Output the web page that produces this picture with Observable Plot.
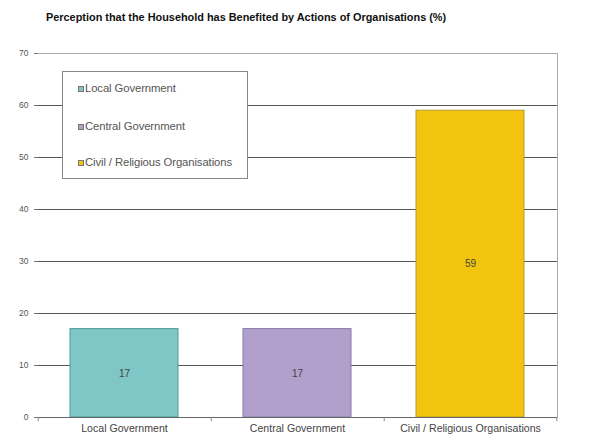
<!DOCTYPE html>
<html>
<head>
<meta charset="utf-8">
<script src="https://cdn.jsdelivr.net/npm/d3@7"></script>
<script src="https://cdn.jsdelivr.net/npm/@observablehq/plot@0.6"></script>
<style>
  html, body { margin: 0; padding: 0; background: #fff; }
  #wrap { position: relative; width: 589px; height: 447px; font-family: "Liberation Sans", Arial, sans-serif; }
  #title { position: absolute; left: 46px; top: 11px; font-size: 10.9px; font-weight: bold; color: #111; white-space: nowrap; }
  #legend { position: absolute; left: 62px; top: 71px; width: 186px; height: 108px; background: #fff; border: 1px solid #888; box-sizing: border-box; }
  .item { position: absolute; left: 15px; font-size: 11.3px; line-height: 13px; color: #555; white-space: nowrap; display: flex; align-items: center; letter-spacing: -0.1px; }
  .sw { width: 6px; height: 6px; margin-right: 1px; border: 0.5px solid #777; box-sizing: border-box; }
</style>
</head>
<body>
<div id="wrap">
  <div id="title"></div>
  <div id="chart"></div>
  <div id="legend"></div>
</div>
<script>
const title = "Perception that the Household has Benefited by Actions of Organisations (%)";
const categories = ["Local Government", "Central Government", "Civil / Religious Organisations"];
const values = [17, 17, 59];
const colors = ["#7fc6c7", "#b1a0cb", "#f2c40d"];
const strokes = ["#4f9a9a", "#8a7aa8", "#b89a30"];
const yTicks = [0, 10, 20, 30, 40, 50, 60, 70];

const data = categories.map((c, i) => ({category: c, value: values[i], color: colors[i], stroke: strokes[i]}));

document.getElementById("title").textContent = title;

const chart = Plot.plot({
  width: 589,
  height: 447,
  marginLeft: 38,
  marginRight: 32,
  marginTop: 53,
  marginBottom: 30,
  style: {fontFamily: "'Liberation Sans', Arial, sans-serif", background: "#fff"},
  x: {domain: categories, paddingInner: 0.375, paddingOuter: 0.1875, label: null, tickSize: 0, tickPadding: 8},
  y: {domain: [0, 70], ticks: yTicks, label: null, tickSize: 0},
  marks: [
    Plot.ruleY(yTicks.filter(d => d > 0 && d < 70), {stroke: "#555", strokeWidth: 1}),
    Plot.ruleY([70], {stroke: "#aaa"}),
    Plot.frame({stroke: "#aaa", anchor: "right"}),
    Plot.barY(data, {x: "category", y: "value", fill: "color", stroke: "stroke", strokeWidth: 1}),
    Plot.text(data, {x: "category", y: d => d.value / 2, text: d => String(d.value), fill: "#444", fontSize: 10}),
    Plot.ruleY([0], {stroke: "#666"}),
    Plot.ruleX([0], {frameAnchor: "left", y1: 0, y2: 70, stroke: "#888"}),
    Plot.ruleX(categories, {x: d => d, dx: -86.3, y1: 0, y2: -0.8, stroke: "#888"}),
    Plot.ruleX([categories[categories.length - 1]], {x: d => d, dx: 86.3, y1: 0, y2: -0.8, stroke: "#888"}),
    Plot.axisY({ticks: yTicks, tickSize: 4, tickPadding: 6, fontSize: 8.5, fill: "#555", stroke: "#777", label: null}),
    Plot.axisX({tickSize: 0, tickPadding: 7, fontSize: 10.6, fill: "#444", label: null})
  ]
});
document.getElementById("chart").appendChild(chart);

const legend = document.getElementById("legend");
const tops = [10, 48, 84];
categories.forEach((c, i) => {
  const it = document.createElement("div");
  it.className = "item";
  it.style.top = tops[i] + "px";
  const sw = document.createElement("span");
  sw.className = "sw";
  sw.style.background = colors[i];
  it.appendChild(sw);
  const t = document.createElement("span");
  t.textContent = c;
  it.appendChild(t);
  legend.appendChild(it);
});
</script>
</body>
</html>
